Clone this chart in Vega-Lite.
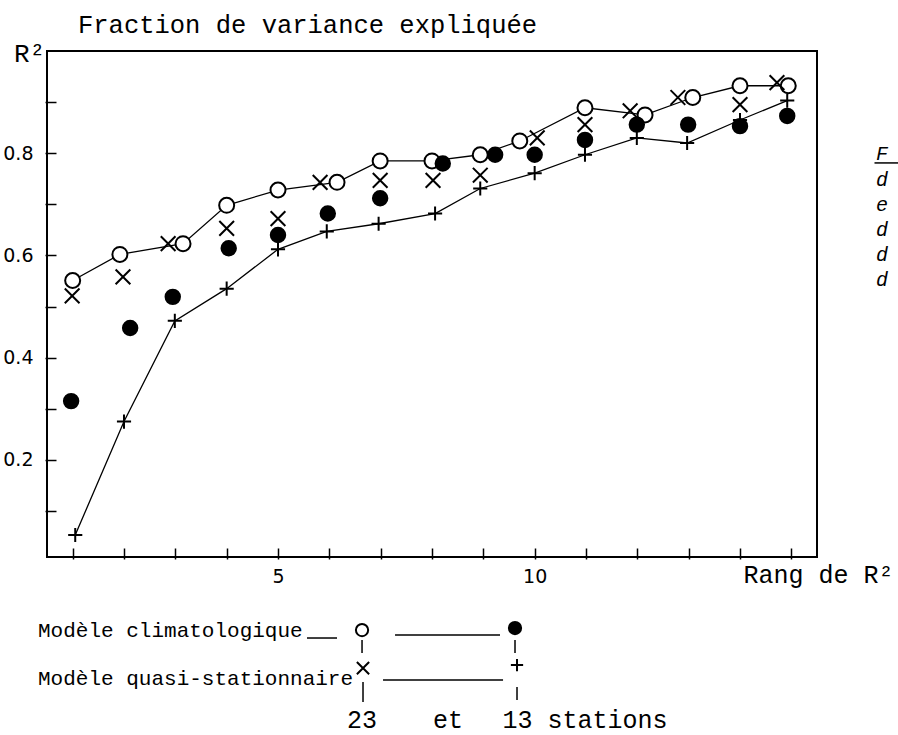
{
  "$schema": "https://vega.github.io/schema/vega-lite/v6.json",
  "autosize": {"type": "none"},
  "width": 770,
  "height": 506,
  "padding": {"left": 47, "top": 51, "right": 81, "bottom": 178},
  "background": "white",
  "config": {
    "view": {"stroke": "black", "strokeWidth": 2},
    "axis": {"grid": false, "domain": false, "tickColor": "black", "tickWidth": 1.5, "labelColor": "black", "titleColor": "black", "titleFontWeight": "normal"}
  },
  "title": {"text": "Fraction de variance expliquée", "anchor": "start", "frame": "group", "dx": 31, "dy": -2, "font": "Liberation Mono", "fontSize": 25.5, "fontWeight": "normal", "color": "black", "offset": 0},
  "datasets": {
    "pts": [
      {"series": "c23", "x": 1.0, "y": 0.551}, {"series": "c23", "x": 1.92, "y": 0.602}, {"series": "c23", "x": 3.15, "y": 0.623}, {"series": "c23", "x": 4.0, "y": 0.698}, {"series": "c23", "x": 5.0, "y": 0.728}, {"series": "c23", "x": 6.15, "y": 0.743}, {"series": "c23", "x": 6.99, "y": 0.785}, {"series": "c23", "x": 8.0, "y": 0.785}, {"series": "c23", "x": 8.94, "y": 0.797}, {"series": "c23", "x": 9.71, "y": 0.824}, {"series": "c23", "x": 10.98, "y": 0.889}, {"series": "c23", "x": 12.15, "y": 0.875}, {"series": "c23", "x": 13.08, "y": 0.909}, {"series": "c23", "x": 14.0, "y": 0.932}, {"series": "c23", "x": 14.94, "y": 0.932},
      {"series": "q23", "x": 0.99, "y": 0.521}, {"series": "q23", "x": 1.98, "y": 0.558}, {"series": "q23", "x": 2.86, "y": 0.623}, {"series": "q23", "x": 4.0, "y": 0.653}, {"series": "q23", "x": 5.0, "y": 0.672}, {"series": "q23", "x": 5.82, "y": 0.743}, {"series": "q23", "x": 6.99, "y": 0.747}, {"series": "q23", "x": 8.02, "y": 0.747}, {"series": "q23", "x": 8.94, "y": 0.757}, {"series": "q23", "x": 10.05, "y": 0.83}, {"series": "q23", "x": 10.98, "y": 0.856}, {"series": "q23", "x": 11.86, "y": 0.883}, {"series": "q23", "x": 12.79, "y": 0.909}, {"series": "q23", "x": 14.0, "y": 0.895}, {"series": "q23", "x": 14.72, "y": 0.938},
      {"series": "c13", "x": 0.97, "y": 0.315}, {"series": "c13", "x": 2.12, "y": 0.458}, {"series": "c13", "x": 2.95, "y": 0.519}, {"series": "c13", "x": 4.04, "y": 0.614}, {"series": "c13", "x": 5.0, "y": 0.64}, {"series": "c13", "x": 5.97, "y": 0.682}, {"series": "c13", "x": 6.99, "y": 0.712}, {"series": "c13", "x": 8.21, "y": 0.78}, {"series": "c13", "x": 9.23, "y": 0.797}, {"series": "c13", "x": 10.0, "y": 0.797}, {"series": "c13", "x": 10.98, "y": 0.826}, {"series": "c13", "x": 11.99, "y": 0.856}, {"series": "c13", "x": 12.99, "y": 0.856}, {"series": "c13", "x": 14.0, "y": 0.853}, {"series": "c13", "x": 14.92, "y": 0.873},
      {"series": "q13", "x": 1.05, "y": 0.053}, {"series": "q13", "x": 2.0, "y": 0.275}, {"series": "q13", "x": 2.99, "y": 0.472}, {"series": "q13", "x": 4.0, "y": 0.535}, {"series": "q13", "x": 5.0, "y": 0.612}, {"series": "q13", "x": 5.95, "y": 0.647}, {"series": "q13", "x": 6.96, "y": 0.662}, {"series": "q13", "x": 8.06, "y": 0.682}, {"series": "q13", "x": 8.94, "y": 0.731}, {"series": "q13", "x": 10.0, "y": 0.761}, {"series": "q13", "x": 10.98, "y": 0.797}, {"series": "q13", "x": 11.99, "y": 0.83}, {"series": "q13", "x": 12.97, "y": 0.82}, {"series": "q13", "x": 14.0, "y": 0.865}, {"series": "q13", "x": 14.92, "y": 0.903}
    ],
    "legsym": [
      {"series": "c23", "x": 6.637, "y": -0.1329},
      {"series": "c13", "x": 9.617, "y": -0.129},
      {"series": "q23", "x": 6.656, "y": -0.2073},
      {"series": "q13", "x": 9.656, "y": -0.2014}
    ],
    "legrule": [
      {"x": 5.565, "x2": 6.15, "y": -0.1485, "y2": -0.1485},
      {"x": 7.28, "x2": 9.325, "y": -0.1427, "y2": -0.1427},
      {"x": 7.046, "x2": 9.384, "y": -0.2308, "y2": -0.2308},
      {"x": 6.637, "x2": 6.637, "y": -0.1525, "y2": -0.1779},
      {"x": 9.617, "x2": 9.617, "y": -0.1525, "y2": -0.1779},
      {"x": 6.656, "x2": 6.656, "y": -0.2346, "y2": -0.2737},
      {"x": 9.656, "x2": 9.656, "y": -0.2444, "y2": -0.2698},
      {"x": 16.62, "x2": 17.2, "y": 0.781, "y2": 0.781}
    ],
    "leglab": [
      {"label": "Modèle climatologique", "x": 0.325, "y": -0.1466},
      {"label": "Modèle quasi-stationnaire", "x": 0.325, "y": -0.2405}
    ],
    "stlab": [
      {"label": "23", "x": 6.637, "y": -0.3246},
      {"label": "et", "x": 8.312, "y": -0.3246},
      {"label": "13 stations", "x": 10.98, "y": -0.3246}
    ],
    "cap": [
      {"label": "F", "x": 16.65, "y": 0.787},
      {"label": "d", "x": 16.65, "y": 0.736},
      {"label": "e", "x": 16.65, "y": 0.687},
      {"label": "d", "x": 16.65, "y": 0.638},
      {"label": "d", "x": 16.65, "y": 0.589},
      {"label": "d", "x": 16.65, "y": 0.540}
    ]
  },
  "encoding": {
    "x": {"field": "x", "type": "quantitative", "scale": {"domain": [0.5, 15.5], "nice": false, "zero": false},
      "axis": {"values": [1,2,3,4,5,6,7,8,9,10,11,12,13,14,15], "labelExpr": "datum.value == 5 || datum.value == 10 ? datum.label : ''", "offset": -9, "tickSize": 11, "labelPadding": 8, "labelFont": "DejaVu Sans", "labelFontSize": 19, "labelBaseline": "top",
        "title": "Rang de R²", "titleFont": "Liberation Mono", "titleFontSize": 25, "titleX": 696, "titleY": 34, "titleAlign": "left", "titleBaseline": "alphabetic", "titleAnchor": null}},
    "y": {"field": "y", "type": "quantitative", "scale": {"domain": [0.01, 1.0], "nice": false, "zero": false},
      "axis": {"values": [0.1,0.2,0.3,0.4,0.5,0.6,0.7,0.8,0.9], "labelExpr": "datum.value == 0.2 || datum.value == 0.4 || datum.value == 0.6 || datum.value == 0.8 ? format(datum.value, '.1f') : ''", "offset": -9, "tickSize": 11, "labelPadding": 12, "labelFont": "DejaVu Sans", "labelFontSize": 19,
        "title": "R²", "titleFont": "Liberation Mono", "titleFontSize": 26, "titleAngle": 0, "titleX": -27, "titleY": 10, "titleAlign": "center", "titleBaseline": "alphabetic"}}
  },
  "layer": [
    {
      "data": {"name": "pts"},
      "transform": [{"filter": "datum.series == 'c23' || datum.series == 'q13'"}],
      "mark": {"type": "line", "color": "black", "strokeWidth": 1.3},
      "encoding": {"detail": {"field": "series"}}
    },
    {
      "data": {"name": "pts"},
      "mark": {"type": "point", "stroke": "black", "strokeWidth": 2, "opacity": 1},
      "encoding": {
        "shape": {"field": "series", "type": "nominal", "legend": null, "scale": {"domain": ["c23", "q23", "c13", "q13"], "range": ["circle", "M-1,-1L1,1M-1,1L1,-1", "circle", "M-1,0L1,0M0,-1L0,1"]}},
        "fill": {"field": "series", "type": "nominal", "legend": null, "scale": {"domain": ["c23", "q23", "c13", "q13"], "range": ["white", "transparent", "black", "transparent"]}},
        "size": {"field": "series", "type": "nominal", "legend": null, "scale": {"domain": ["c23", "q23", "c13", "q13"], "range": [225, 200, 125, 320]}}
      }
    },
    {
      "data": {"name": "legrule"},
      "mark": {"type": "rule", "color": "black", "strokeWidth": 1.5},
      "encoding": {"x2": {"field": "x2"}, "y2": {"field": "y2"}}
    },
    {
      "data": {"name": "legsym"},
      "mark": {"type": "point", "stroke": "black", "strokeWidth": 2, "opacity": 1, "size": 150},
      "encoding": {
        "shape": {"field": "series", "type": "nominal", "legend": null},
        "fill": {"field": "series", "type": "nominal", "legend": null}
      }
    },
    {
      "data": {"name": "leglab"},
      "mark": {"type": "text", "align": "left", "baseline": "alphabetic", "font": "Liberation Mono", "fontSize": 21, "color": "black"},
      "encoding": {"text": {"field": "label"}}
    },
    {
      "data": {"name": "stlab"},
      "mark": {"type": "text", "align": "center", "baseline": "alphabetic", "font": "Liberation Mono", "fontSize": 25, "color": "black"},
      "encoding": {"text": {"field": "label"}}
    },
    {
      "data": {"name": "cap"},
      "mark": {"type": "text", "align": "left", "baseline": "alphabetic", "font": "Liberation Mono", "fontStyle": "italic", "fontSize": 20, "color": "black"},
      "encoding": {"text": {"field": "label"}}
    }
  ]
}
